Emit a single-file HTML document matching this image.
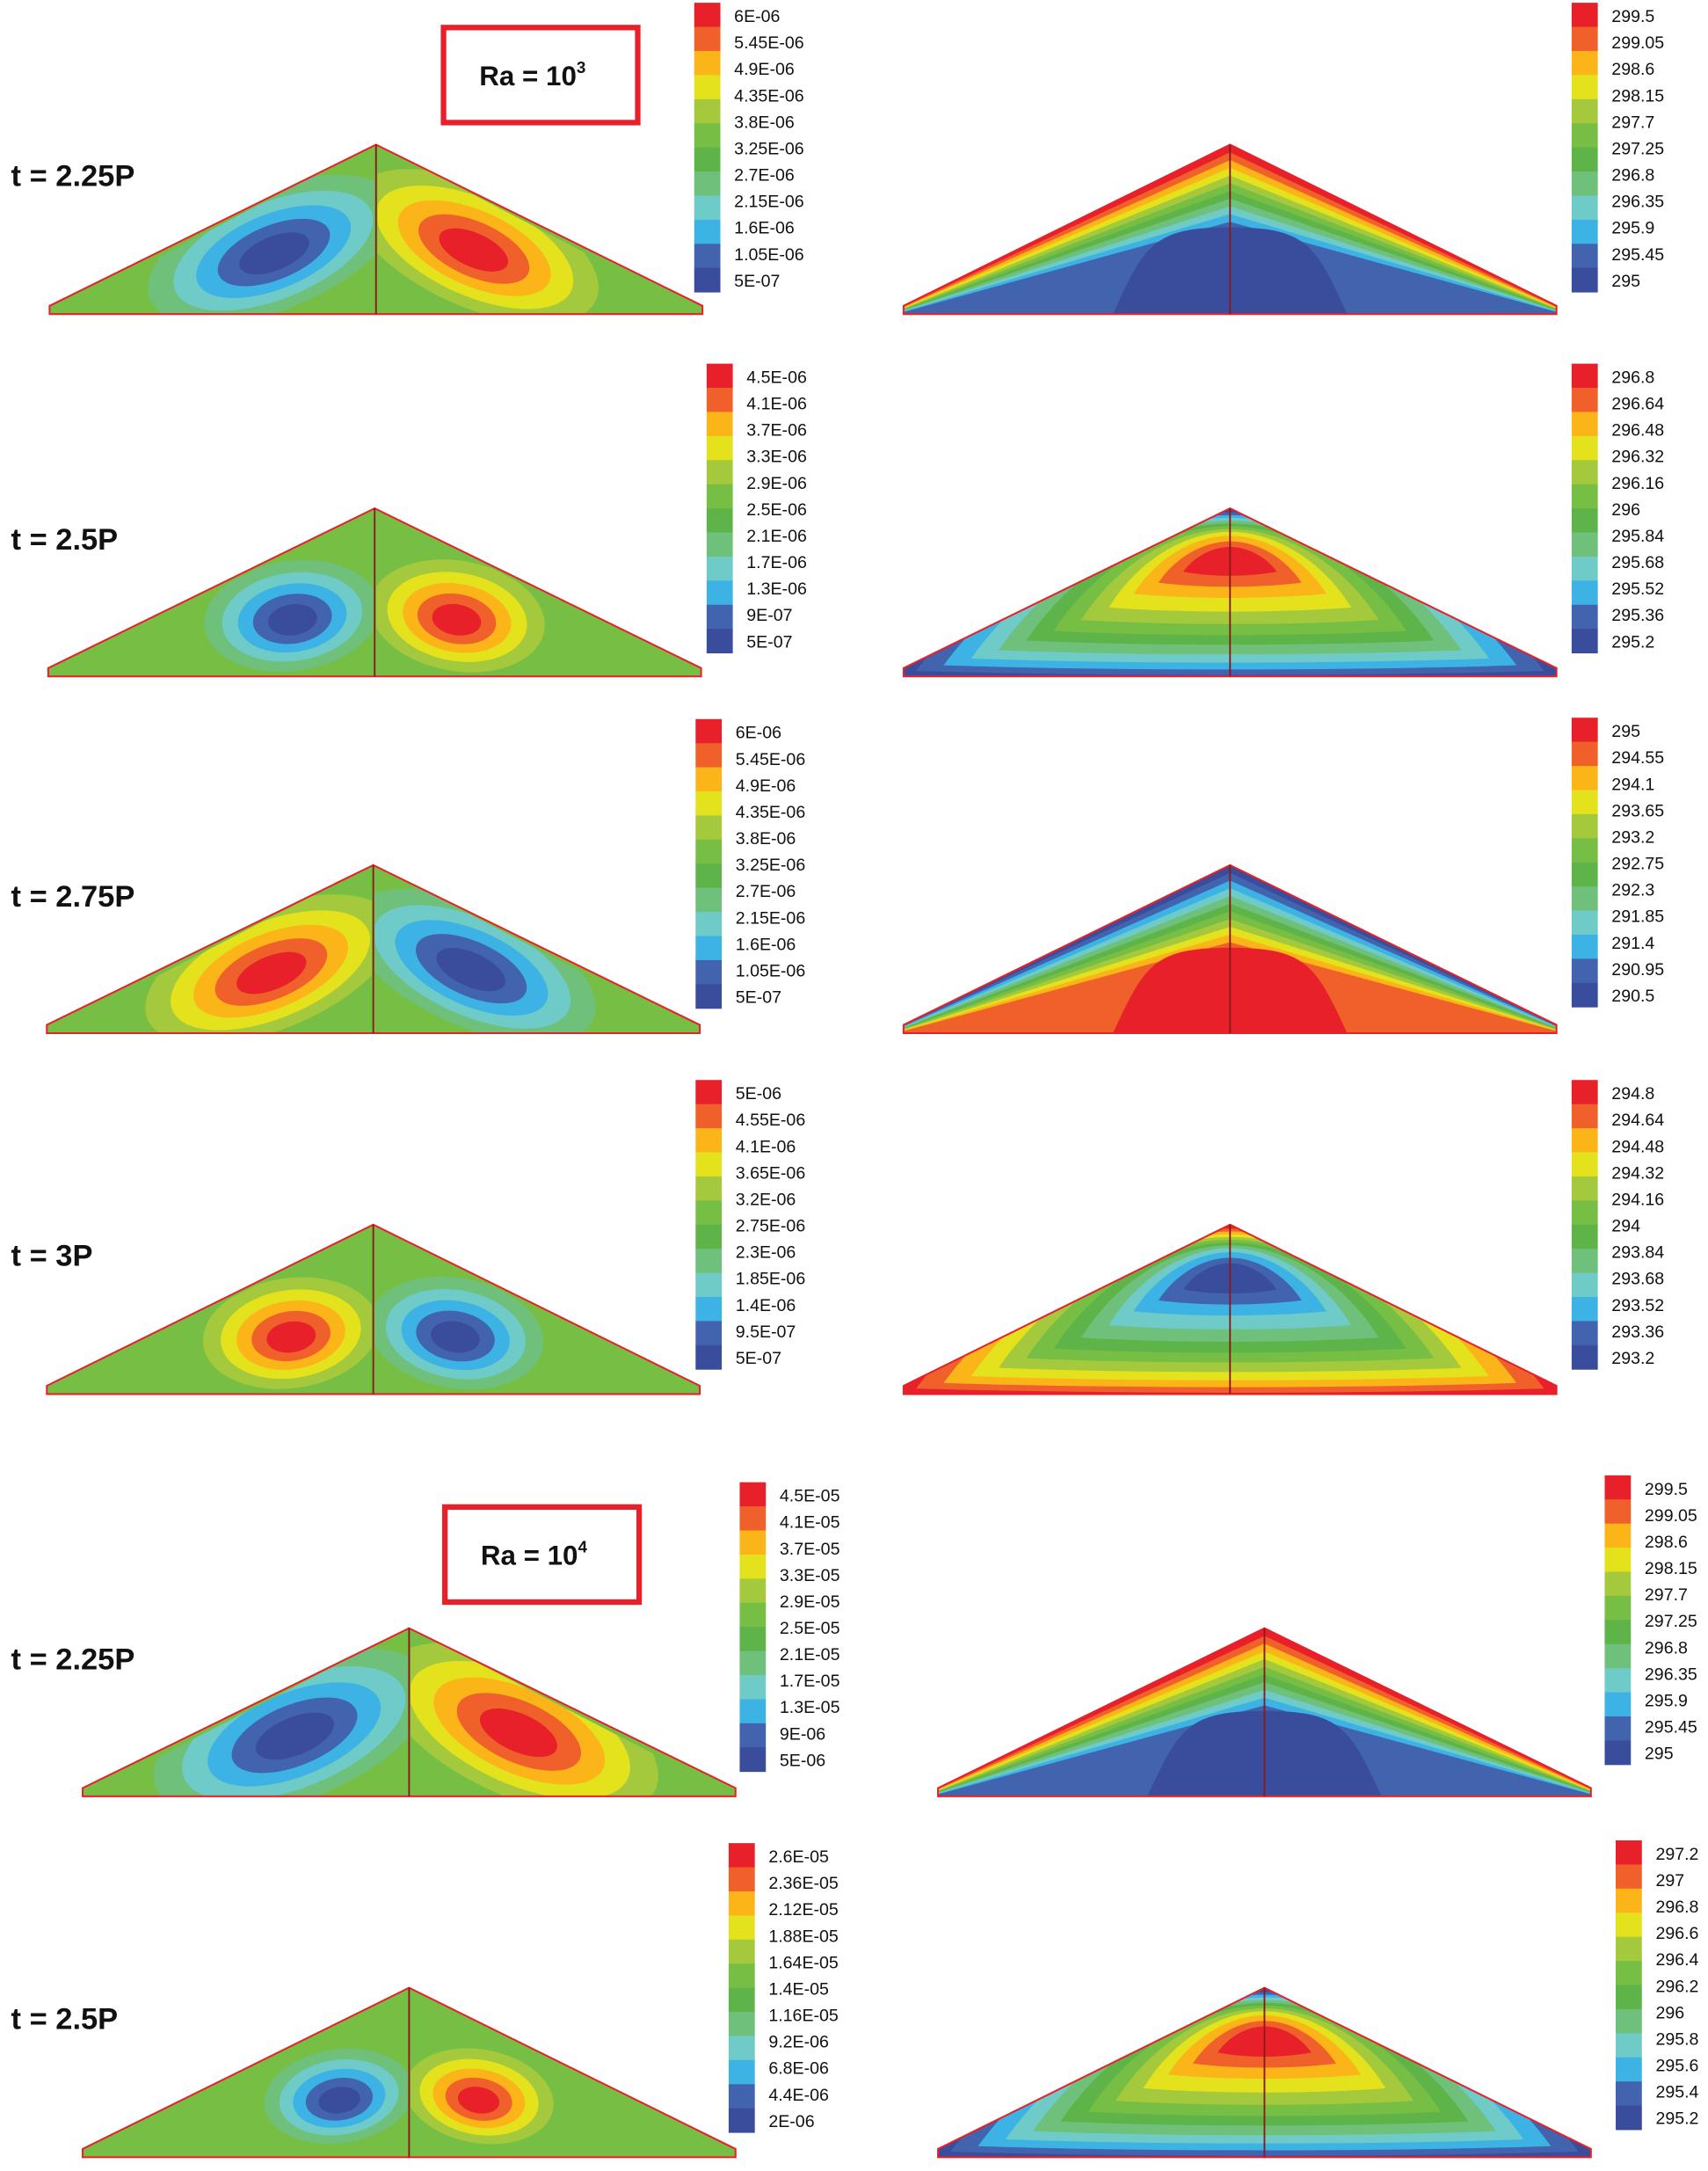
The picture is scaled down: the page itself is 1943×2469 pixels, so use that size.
<!DOCTYPE html>
<html><head><meta charset="utf-8"><style>
html,body{margin:0;padding:0;background:#fff}
svg{display:block}
text{font-family:"Liberation Sans",Arial,sans-serif}
</style></head><body>
<svg id="fig" width="1943" height="2469" viewBox="0 0 1240 1576" preserveAspectRatio="none" xmlns="http://www.w3.org/2000/svg"></svg>
<script>
const PAL=["#e8202a","#f0602a","#fbb518","#e3e21c","#a4c93c","#77bf44","#5eb449","#6fc07a","#6ecbc8","#3db3e5","#4263ae","#3a4d9c"];
const rowTitles=["t = 2.25P","t = 2.5P","t = 2.75P","t = 3P","t = 2.25P","t = 2.5P"];
const psiLabels=[
["6E-06","5.45E-06","4.9E-06","4.35E-06","3.8E-06","3.25E-06","2.7E-06","2.15E-06","1.6E-06","1.05E-06","5E-07"],
["4.5E-06","4.1E-06","3.7E-06","3.3E-06","2.9E-06","2.5E-06","2.1E-06","1.7E-06","1.3E-06","9E-07","5E-07"],
["6E-06","5.45E-06","4.9E-06","4.35E-06","3.8E-06","3.25E-06","2.7E-06","2.15E-06","1.6E-06","1.05E-06","5E-07"],
["5E-06","4.55E-06","4.1E-06","3.65E-06","3.2E-06","2.75E-06","2.3E-06","1.85E-06","1.4E-06","9.5E-07","5E-07"],
["4.5E-05","4.1E-05","3.7E-05","3.3E-05","2.9E-05","2.5E-05","2.1E-05","1.7E-05","1.3E-05","9E-06","5E-06"],
["2.6E-05","2.36E-05","2.12E-05","1.88E-05","1.64E-05","1.4E-05","1.16E-05","9.2E-06","6.8E-06","4.4E-06","2E-06"]];
const tempLabels=[
["299.5","299.05","298.6","298.15","297.7","297.25","296.8","296.35","295.9","295.45","295"],
["296.8","296.64","296.48","296.32","296.16","296","295.84","295.68","295.52","295.36","295.2"],
["295","294.55","294.1","293.65","293.2","292.75","292.3","291.85","291.4","290.95","290.5"],
["294.8","294.64","294.48","294.32","294.16","294","293.84","293.68","293.52","293.36","293.2"],
["299.5","299.05","298.6","298.15","297.7","297.25","296.8","296.35","295.9","295.45","295"],
["297.2","297","296.8","296.6","296.4","296.2","296","295.8","295.6","295.4","295.2"]];
const rowApex=[105,369,628,889,1182,1443];
const rowBase=[228,491,750,1012,1304,1566];
const rowLeftX=[36,35,34,34,60,60];
const rowRightX=[656,656,656,656,681,681];
const psiBarX=[504,513,505,505,537,529];
const psiBarY=[2,264,522,784,1076,1338];
const tmpBarX=[1141,1141,1141,1141,1165,1173];
const tmpBarY=[2,264,521,784,1071,1336];
const leftSign=[-1,-1,1,1,-1,-1];
const tempType=["hot","bump","cold","dip","hot","bump"];
const domeTop=[3,5,7,9,11,13,15,17,20,24,28];
const domeBot=[4,8,13,19,26,33,41,50,60,68,76];
const domeW=[228,208,188,168,148,128,108,88,70,52,34];
const NS="http://www.w3.org/2000/svg";
const svg=document.getElementById('fig');
function mk(tag,attrs,parent){const e=document.createElementNS(NS,tag);for(const k in attrs)e.setAttribute(k,attrs[k]);(parent||svg).appendChild(e);return e;}
const defs=mk('defs',{});
function triPts(x0,ay,by){const W=474,cx=x0+W/2;return `${x0},${by-6} ${cx},${ay} ${x0+W},${by-6} ${x0+W},${by} ${x0},${by}`;}
let cid=0;
function clipG(pts,parent,name){
  const id='c'+(cid++);
  const cp=mk('clipPath',{id:id},defs);
  mk('polygon',{points:pts},cp);
  const g=mk('g',{'clip-path':`url(#${id})`},parent);
  
  
  return g;
}
function outline(x0,ay,by,lineCol){
  const W=474,cx=x0+W/2;
  const o=mk('polygon',{points:triPts(x0,ay,by),fill:'none',stroke:'#e8202a','stroke-width':1.3});
  
  
  const l=mk('line',{x1:cx,y1:ay,x2:cx,y2:by,stroke:lineCol,'stroke-width':1.2});
  
  
}
function colorbar(x,y,labels,name){
  const g=mk('g',{});
  
  
  const h=210/12;
  for(let i=0;i<12;i++){const r=mk('rect',{x:x,y:y+i*h,width:19,height:h+0.3,fill:PAL[i]},g);
    
    }
  labels.forEach((t,i)=>{const tx=mk('text',{x:x+29,y:y+14+i*19.2,'font-size':12.5,fill:'#111'},g);tx.textContent=t;
    
    });
}
const blueSeq=[7,8,9,10,11], redSeq=[4,3,2,1,0];
const ringScale=[1,0.8,0.62,0.45,0.28];
function cell(g,cx,cy,rx,ry,rot,seq){
  ringScale.forEach((s,k)=>{
    const e=mk('ellipse',{cx:cx,cy:cy+(1-s)*4,rx:rx*s,ry:ry*s,fill:PAL[seq[k]],transform:`rotate(${rot} ${cx} ${cy})`},g);
    
    });
}
for(let r=0;r<6;r++){
  const ay=rowApex[r],by=rowBase[r],H=by-ay;
  const t=mk('text',{x:8,y:ay+30,'font-size':22,'font-weight':'bold',fill:'#111'});t.textContent=rowTitles[r];
  
  
  const x0=rowLeftX[r],cx=x0+237;
  const g=clipG(triPts(x0,ay,by),svg,'streamfunction-panel');
  mk('rect',{x:x0,y:ay,width:474,height:H,fill:'#77bf44'},g);
  const big=(r==4)?1.12:(r==5?0.85:1);
  const rnd=(r==1||r==3||r==5);
  const ls=leftSign[r]<0?blueSeq:redSeq, rs=leftSign[r]<0?redSeq:blueSeq;
  const gl=clipG(`${x0},${by} ${cx-1},${ay} ${cx-1},${by}`,g,'left-cell');
  const gr=clipG(`${cx+1},${ay} ${cx+1},${by} ${x0+474},${by}`,g,'right-cell');
  if(rnd){
    cell(gl,cx-60*big,ay+H*0.64,64*big,40*big,-8,ls);
    cell(gr,cx+60*big,ay+H*0.64,64*big,40*big,10,rs);
  } else {
    cell(gl,cx-75*big,ay+H*0.62,96*big,44*big,-22,ls);
    cell(gr,cx+72*big,ay+H*0.6,96*big,44*big,24,rs);
  }
  outline(x0,ay,by,'#8a1a1a');
  colorbar(psiBarX[r],psiBarY[r],psiLabels[r],'streamfunction-colorbar');
  const X0=rowRightX[r],CX=X0+237,X1=X0+474;
  const tg=clipG(triPts(X0,ay,by),svg,'temperature-panel');
  const tp=tempType[r];
  if(tp=='hot'||tp=='cold'){
    const seq=tp=='hot'?[0,1,2,3,4,5,6,7,8,9,10]:[11,10,9,8,7,6,5,4,3,2,1];
    seq.forEach((c,k)=>{const p=mk('polygon',{points:`${X0},${by} ${X0},${by-6+k*0.45} ${CX},${ay+k*5.6} ${X1},${by-6+k*0.45} ${X1},${by}`,fill:PAL[c]},tg);
      
      });
    const core=tp=='hot'?11:0;
    const b=mk('path',{d:`M${X0+152},${by} C${X0+175},${ay+72} ${CX-55},${ay+60} ${CX},${ay+60} C${CX+55},${ay+60} ${X1-175},${ay+72} ${X1-152},${by} Z`,fill:PAL[core]},tg);
    
    
  } else {
    const seq=tp=='bump'?[10,9,8,7,6,5,4,3,2,1,0]:[1,2,3,4,5,6,7,8,9,10,11];
    mk('rect',{x:X0,y:ay,width:474,height:H,fill:tp=='bump'?PAL[11]:PAL[0]},tg);
    seq.forEach((c,k)=>{
      const w=domeW[k],top=ay+domeTop[k],bot=by-domeBot[k];
      const p=mk('path',{d:`M${CX-w},${bot} C${CX-w*0.75},${top+(bot-top)*0.35} ${CX-w*0.35},${top} ${CX},${top} C${CX+w*0.35},${top} ${CX+w*0.75},${top+(bot-top)*0.35} ${CX+w},${bot} C${CX+w*0.4},${bot+4} ${CX-w*0.4},${bot+4} ${CX-w},${bot} Z`,fill:PAL[c]},tg);
      
      
    });
  }
  outline(X0,ay,by,'#8a1a1a');
  colorbar(tmpBarX[r],tmpBarY[r],tempLabels[r],'temperature-colorbar');
}
[[322,20,"3"],[323,1094,"4"]].forEach(b=>{
  const g=mk('g',{});
  
  
  mk('rect',{x:b[0],y:b[1],width:141,height:69,fill:'#fff',stroke:'#e8202a','stroke-width':4},g);
  const t=mk('text',{x:b[0]+26,y:b[1]+42,'font-size':20,'font-weight':'bold',fill:'#111'},g);
  t.textContent="Ra = 10";
  const s=mk('tspan',{dy:-9,'font-size':12},t);s.textContent=b[2];
});
</script>
</body></html>
